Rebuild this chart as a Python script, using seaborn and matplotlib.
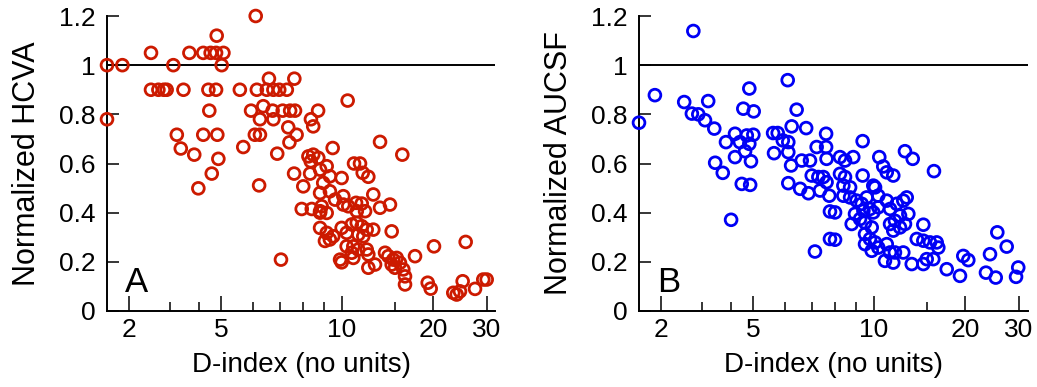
import numpy as np
import pandas as pd
import matplotlib
matplotlib.use('Agg')
import matplotlib.pyplot as plt
import seaborn as sns

# panel A: D-index vs normalized HCVA
d_hcva = [6.10, 4.79, 2.49, 3.65, 4.19, 4.51, 4.76, 5.07, 1.60, 1.87, 3.11, 5.02,
          2.49, 2.68, 2.83, 2.91, 3.44, 4.41, 4.76, 5.57, 6.14, 6.50, 6.75, 6.98, 7.29,
          6.58, 7.61, 4.45, 5.94, 6.37, 6.72, 7.12, 7.43, 7.64, 8.72,
          1.60, 6.25, 6.75, 8.37, 8.48, 7.35, 7.71, 3.22, 4.19, 4.82, 6.07, 6.25, 7.40,
          3.35, 3.83, 4.87, 5.68, 6.90, 4.56, 7.60, 8.33, 3.99, 6.22, 8.01,
          7.05, 7.94, 8.41, 8.82, 8.25, 8.48, 8.73, 8.36,
          10.44, 13.36, 15.83, 9.48, 8.82, 9.16, 9.33, 9.98, 8.98, 9.33, 8.82, 9.61,
          10.96, 11.47, 11.71, 12.22, 10.10,
          8.82, 9.16, 8.90, 10.10, 10.49, 11.13, 11.62, 11.19, 11.92, 12.69, 13.36, 14.41,
          8.82, 9.16, 9.33, 9.07, 9.51, 9.98, 10.36, 10.77, 11.19, 11.62, 12.07, 11.32, 11.76, 12.69, 14.60,
          10.36, 10.90, 10.77, 11.32, 12.07, 10.90, 9.89, 9.98, 12.22,
          12.22, 12.86, 13.88, 14.23, 14.78, 15.17, 14.60, 14.97, 15.55, 15.95, 16.16, 16.16, 17.44,
          20.15, 25.56, 19.21, 19.65, 23.29, 23.89, 24.49, 24.99, 27.42, 29.17, 29.93]
hcva = [1.20, 1.12, 1.05, 1.05, 1.05, 1.05, 1.05, 1.05, 1.00, 1.00, 1.00, 1.00,
        0.90, 0.90, 0.90, 0.90, 0.90, 0.90, 0.90, 0.90, 0.90, 0.90, 0.90, 0.90, 0.90,
        0.945, 0.945, 0.815, 0.815, 0.833, 0.815, 0.815, 0.815, 0.815, 0.815,
        0.78, 0.78, 0.78, 0.78, 0.751, 0.747, 0.717, 0.717, 0.717, 0.717, 0.717, 0.717, 0.686,
        0.661, 0.636, 0.619, 0.667, 0.640, 0.559, 0.559, 0.559, 0.499, 0.511, 0.507,
        0.209, 0.415, 0.415, 0.400, 0.629, 0.636, 0.623, 0.609,
        0.856, 0.688, 0.636, 0.663, 0.575, 0.589, 0.548, 0.541, 0.521, 0.487, 0.480, 0.453,
        0.600, 0.600, 0.562, 0.546, 0.467,
        0.406, 0.399, 0.426, 0.433, 0.426, 0.440, 0.437, 0.406, 0.406, 0.474, 0.420, 0.433,
        0.338, 0.318, 0.291, 0.285, 0.304, 0.338, 0.318, 0.352, 0.359, 0.345, 0.331, 0.311, 0.304, 0.331, 0.324,
        0.263, 0.263, 0.237, 0.250, 0.250, 0.216, 0.209, 0.198, 0.230,
        0.176, 0.189, 0.237, 0.223, 0.209, 0.216, 0.189, 0.176, 0.196, 0.169, 0.141, 0.108, 0.223,
        0.263, 0.281, 0.115, 0.091, 0.074, 0.067, 0.080, 0.121, 0.090, 0.128, 0.128]

# panel B: D-index vs normalized AUCSF
d_aucsf = [2.76, 1.88, 1.60, 2.52, 2.72, 2.90, 3.10, 3.20, 3.40,
           4.18, 3.82, 4.39, 4.70, 4.82, 5.01, 4.54, 4.82, 5.02,
           3.43, 3.70, 4.18, 4.62, 4.90, 4.47, 4.86, 4.02,
           6.10, 6.42, 6.24, 6.78, 5.61, 5.76, 5.93, 6.12, 5.64, 6.12, 6.22,
           6.61, 6.93, 7.20, 7.60, 7.60, 7.62, 6.12, 6.55, 6.87, 7.00, 7.27, 7.48, 7.62, 7.34,
           7.13, 7.77, 7.77, 7.74, 8.00, 8.00,
           9.37, 8.23, 8.88, 8.47, 8.23, 8.47, 9.37, 8.39, 8.72, 9.96,
           10.41, 10.73, 11.02, 11.58, 12.66, 13.43, 15.79,
           8.39, 8.72, 9.05, 9.32, 9.59, 10.08, 10.33, 9.77, 9.41, 8.97, 8.80, 9.23, 9.50, 9.96, 10.33,
           9.87, 9.50, 9.77, 10.08, 9.50, 10.33, 9.87, 11.02,
           11.02, 11.30, 11.89, 12.19, 12.50, 12.83, 12.99, 11.73, 12.19, 11.58, 11.30, 12.66,
           10.87, 11.58, 11.30, 11.73, 12.50, 13.33,
           14.56, 13.85, 14.56, 15.32, 16.12, 16.32, 14.94, 15.71, 14.56,
           17.40, 19.25, 19.74, 20.50, 24.13, 25.49, 27.35, 23.41, 25.19, 29.83, 29.34]
aucsf = [1.139, 0.878, 0.766, 0.850, 0.803, 0.800, 0.776, 0.854, 0.742,
         0.721, 0.687, 0.687, 0.714, 0.680, 0.717, 0.823, 0.905, 0.812,
         0.603, 0.562, 0.626, 0.650, 0.609, 0.517, 0.513, 0.371,
         0.939, 0.819, 0.751, 0.744, 0.724, 0.724, 0.694, 0.687, 0.642, 0.646, 0.592,
         0.612, 0.612, 0.667, 0.721, 0.667, 0.619, 0.520, 0.497, 0.479, 0.551, 0.545, 0.545, 0.524, 0.490,
         0.242, 0.405, 0.293, 0.469, 0.401, 0.290,
         0.691, 0.626, 0.626, 0.612, 0.558, 0.545, 0.551, 0.510, 0.503, 0.510,
         0.626, 0.588, 0.564, 0.551, 0.650, 0.619, 0.569,
         0.469, 0.462, 0.449, 0.436, 0.462, 0.503, 0.469, 0.415, 0.408, 0.395, 0.354, 0.374, 0.360, 0.401, 0.422,
         0.340, 0.313, 0.293, 0.279, 0.272, 0.258, 0.245, 0.272,
         0.449, 0.415, 0.436, 0.388, 0.449, 0.462, 0.395, 0.367, 0.340, 0.327, 0.354, 0.354,
         0.204, 0.197, 0.238, 0.238, 0.238, 0.191,
         0.351, 0.293, 0.286, 0.279, 0.279, 0.258, 0.211, 0.211, 0.191,
         0.170, 0.143, 0.224, 0.207, 0.231, 0.320, 0.262, 0.156, 0.136, 0.177, 0.139]

x_ticks = [2, 5, 10, 20, 30]
x_minor = [3, 4, 6, 7, 8, 9, 15]
y_ticks = [0, 0.2, 0.4, 0.6, 0.8, 1.0, 1.2]
y_labels = ['0', '0.2', '0.4', '0.6', '0.8', '1', '1.2']

# the original D axis is log-like but its decades are not evenly spaced,
# so the scale goes through the labelled ticks piece by piece
D_KNOTS = np.log10([1.6, 2, 5, 10, 20, 30, 31.9])
PX_KNOTS = np.array([0, 22, 114, 235, 326, 380, 388.5])


def d_forward(x):
    x = np.clip(np.asarray(x, dtype=float), 1e-3, None)
    return np.interp(np.log10(x), D_KNOTS, PX_KNOTS)


def d_inverse(p):
    return 10 ** np.interp(p, PX_KNOTS, D_KNOTS)


sns.set_style('ticks')
plt.rcParams['font.family'] = ['Liberation Sans', 'DejaVu Sans']
for key in ['text.color', 'axes.labelcolor', 'xtick.color', 'ytick.color', 'axes.edgecolor']:
    plt.rcParams[key] = 'black'

W, H = 1037, 387
fig = plt.figure(figsize=(W / 100, H / 100), dpi=100)

panels = [
    (107, d_hcva, hcva, 'Normalized HCVA', 'A', '#cc1a00'),
    (639, d_aucsf, aucsf, 'Normalized AUCSF', 'B', '#0000f5'),
]

for left, xs, ys, ylab, letter, col in panels:
    ax = fig.add_axes([left / W, (H - 311) / H, 388.5 / W, 295 / H])
    df = pd.DataFrame({'D': xs, 'v': ys})
    ax.set_xscale('function', functions=(d_forward, d_inverse))
    ax.axhline(1.0, color='black', lw=1.4, zorder=1)
    sns.scatterplot(data=df, x='D', y='v', ax=ax, marker='o', s=72,
                    facecolors='none', edgecolor=col, linewidth=2.0,
                    clip_on=False, zorder=3)
    ax.set_xlim(1.6, 31.9)
    ax.set_ylim(0, 1.2)
    ax.set_xticks(x_ticks)
    ax.set_xticklabels([str(t) for t in x_ticks])
    ax.set_xticks(x_minor, minor=True)
    ax.set_xticklabels([], minor=True)
    ax.set_yticks(y_ticks)
    ax.set_yticklabels(y_labels)
    ax.tick_params(axis='x', which='major', direction='in', length=10.8, width=1.1,
                   labelsize=19, pad=5)
    ax.tick_params(axis='x', which='minor', direction='in', length=6.5, width=1.1)
    ax.tick_params(axis='y', direction='in', length=8.5, width=1.1, labelsize=19, pad=8)
    for s in ['left', 'bottom']:
        ax.spines[s].set_linewidth(1.4)
    sns.despine(ax=ax)
    ax.set_xlabel('D-index (no units)', fontsize=20)
    ax.xaxis.set_label_coords(0.5, -0.14)
    ax.set_ylabel(ylab, fontsize=22)
    ax.yaxis.set_label_coords(-0.167, 0.5)
    ax.text(0.047, 0.064, letter, transform=ax.transAxes, fontsize=25, va='baseline')

fig.savefig('out.png', dpi=100)
